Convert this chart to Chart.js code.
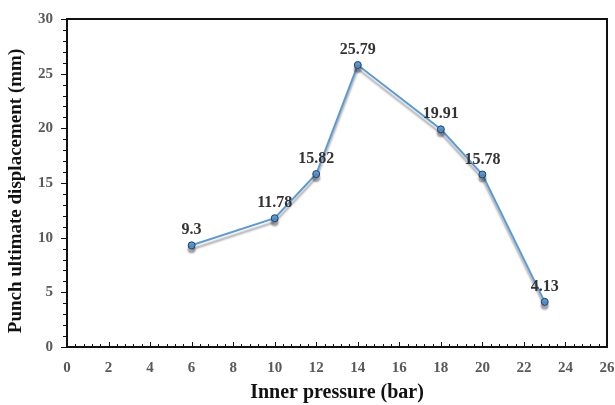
<!DOCTYPE html>
<html>
<head>
<meta charset="utf-8">
<script src="https://cdn.jsdelivr.net/npm/chart.js@4.4.0/dist/chart.umd.min.js"></script>
<style>
  html, body { margin: 0; padding: 0; background: #fff; }
  #wrap { width: 615px; height: 405px; }
</style>
</head>
<body>
<div id="wrap"><canvas id="grafica"></canvas></div>
<script>
const presion = [6, 10, 12, 14, 18, 20, 23];
const desplazamiento = [9.3, 11.78, 15.82, 25.79, 19.91, 15.78, 4.13];
const etiquetas = ['9.3', '11.78', '15.82', '25.79', '19.91', '15.78', '4.13'];
const tituloY = 'Punch ultimate displacement (mm)';

const fuente = "'Liberation Serif', 'DejaVu Serif', serif";

// marco, ticks menores, titulo Y y etiquetas de datos
const marco = {
  id: 'marco',
  beforeDatasetDraw(chart) {
    const ctx = chart.ctx;
    ctx.save();
    ctx.shadowColor = 'rgba(0,0,0,0.35)';
    ctx.shadowBlur = 2;
    ctx.shadowOffsetX = 0;
    ctx.shadowOffsetY = 4;
  },
  afterDatasetDraw(chart) {
    chart.ctx.restore();
  },
  afterDraw(chart) {
    const ctx = chart.ctx;
    const a = chart.chartArea;
    const x = chart.scales.x, y = chart.scales.y;
    const l = Math.round(a.left), r = Math.round(a.right);
    const t = Math.round(a.top), b = Math.round(a.bottom);
    ctx.save();
    ctx.shadowColor = 'transparent';
    ctx.strokeStyle = '#111';
    ctx.lineWidth = 2;
    ctx.strokeRect(l, t, r - l, b - t);
    ctx.lineWidth = 1;
    ctx.beginPath();
    for (let i = 0; i <= 65; i++) {
      const v = i * 0.4;
      const px = Math.round(x.getPixelForValue(v)) + 0.5;
      ctx.moveTo(px, b);
      ctx.lineTo(px, b - (i % 5 === 0 ? 5 : 3));
    }
    for (let v = 0; v <= 30; v += 1) {
      const py = Math.round(y.getPixelForValue(v)) + 0.5;
      ctx.moveTo(l, py);
      ctx.lineTo(l - (v % 5 === 0 ? 6 : 4), py);
    }
    ctx.stroke();

    ctx.save();
    ctx.translate(16, 191);
    ctx.rotate(-Math.PI / 2);
    ctx.font = 'bold 19px ' + fuente;
    ctx.fillStyle = '#111';
    ctx.textAlign = 'center';
    ctx.textBaseline = 'middle';
    ctx.fillText(tituloY, 0, 0);
    ctx.restore();

    const meta = chart.getDatasetMeta(0);
    ctx.font = 'bold 16px ' + fuente;
    ctx.fillStyle = '#333333';
    ctx.textAlign = 'center';
    ctx.textBaseline = 'middle';
    meta.data.forEach((p, i) => {
      ctx.fillText(etiquetas[i], p.x, p.y - 15);
    });
    ctx.restore();
  }
};

new Chart(document.getElementById('grafica'), {
  type: 'line',
  data: {
    datasets: [{
      data: presion.map((p, i) => ({ x: p, y: desplazamiento[i] })),
      borderColor: '#5b9bd5',
      borderWidth: 2,
      backgroundColor: '#5b9bd5',
      pointBackgroundColor: '#5b9bd5',
      pointBorderColor: '#1f3f6e',
      pointBorderWidth: 1,
      pointRadius: 3.5,
      tension: 0
    }]
  },
  options: {
    responsive: true,
    maintainAspectRatio: false,
    animation: false,
    layout: { padding: { top: 19, right: 8, left: 0, bottom: 0 } },
    plugins: {
      legend: { display: false },
      tooltip: { enabled: false }
    },
    scales: {
      x: {
        type: 'linear',
        min: 0,
        max: 26,
        grid: { display: false, drawTicks: false },
        border: { display: false },
        ticks: {
          stepSize: 2,
          padding: 12,
          color: '#595959',
          font: { family: fuente, size: 15, weight: 'bold' },
          maxRotation: 0
        },
        title: {
          display: true,
          text: 'Inner pressure (bar)',
          color: '#111',
          font: { family: fuente, size: 20, weight: 'bold' },
          padding: { top: 0, bottom: 0 }
        },
        afterFit(s) {
          s.height = 58;
          s.paddingLeft = 0;
          s.paddingRight = 0;
        }
      },
      y: {
        min: 0,
        max: 30,
        grid: { display: false, drawTicks: false },
        border: { display: false },
        ticks: {
          stepSize: 5,
          padding: 14,
          color: '#595959',
          font: { family: fuente, size: 15, weight: 'bold' }
        },
        title: { display: false },
        afterFit(s) {
          s.width = 67;
          s.paddingTop = 0;
          s.paddingBottom = 0;
        }
      }
    }
  },
  plugins: [marco]
});
</script>
</body>
</html>
